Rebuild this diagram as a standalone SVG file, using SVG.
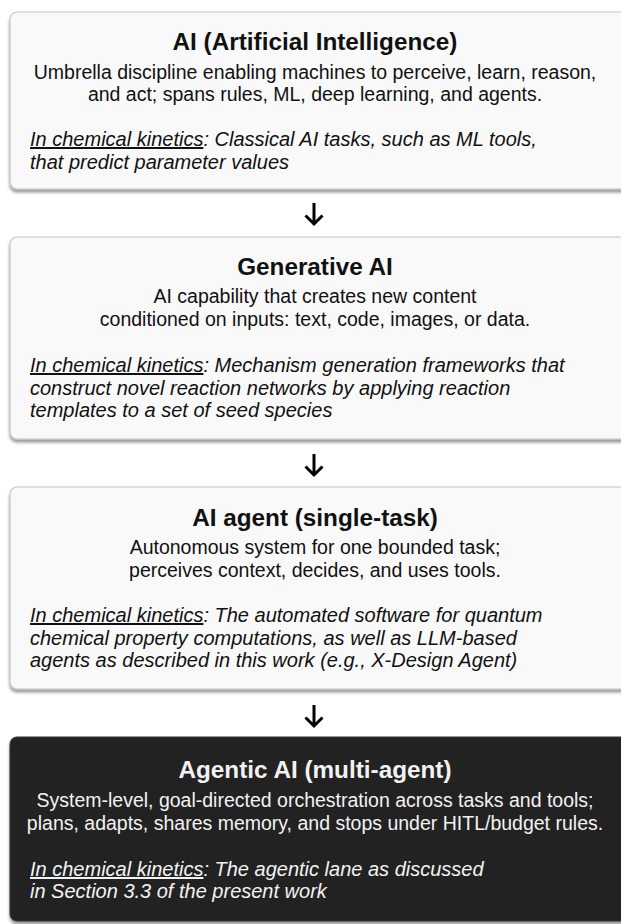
<svg xmlns="http://www.w3.org/2000/svg" width="621" height="924" viewBox="0 0 621 924">
<defs>
<filter id="sh" x="-5%" y="-5%" width="110%" height="115%">
<feDropShadow dx="0" dy="3" stdDeviation="1.5" flood-color="#000" flood-opacity="0.4"/>
</filter>
<style>
.box{fill:#f9f9f9;stroke:#c4c4c4;stroke-width:1.2;filter:url(#sh)}
.dark{fill:#232323;stroke:#333;stroke-width:1;filter:url(#sh)}
.t{font-family:"Liberation Sans",Arial,sans-serif;font-weight:bold;font-size:24.3px;text-anchor:middle;fill:#111}
.b{font-family:"Liberation Sans",Arial,sans-serif;font-size:19.5px;text-anchor:middle;fill:#111}
.i{font-family:"Liberation Sans",Arial,sans-serif;font-size:20px;font-style:italic;fill:#111}
.w{fill:#f2f2f2}
.u{text-decoration:underline}
.arr{fill:none;stroke:#000;stroke-width:3;stroke-linecap:butt;stroke-linejoin:miter}
</style>
</defs>
<rect width="621" height="924" fill="#fff"/>
<g id="connectors">
<path class="arr" d="M314 203V223M305.5 215.5L314 224L322.5 215.5"/>
<path class="arr" d="M314 454V474M305.5 466.5L314 475L322.5 466.5"/>
<path class="arr" d="M314 705V725M305.5 717.5L314 726L322.5 717.5"/>
</g>
<g id="node-ai">
<rect class="box" x="10" y="12" width="620" height="177" rx="7"/>
<text class="t" x="315" y="50">AI (Artificial Intelligence)</text>
<text class="b" x="315" y="79">Umbrella discipline enabling machines to perceive, learn, reason,</text>
<text class="b" x="315" y="101">and act; spans rules, ML, deep learning, and agents.</text>
<text class="i" x="30" y="146"><tspan class="u">In chemical kinetics</tspan>: Classical AI tasks, such as ML tools,</text>
<text class="i" x="30" y="169">that predict parameter values</text>
</g>
<g id="node-genai">
<rect class="box" x="10" y="237" width="620" height="202" rx="7"/>
<text class="t" x="315" y="275">Generative AI</text>
<text class="b" x="315" y="303">AI capability that creates new content</text>
<text class="b" x="315" y="326">conditioned on inputs: text, code, images, or data.</text>
<text class="i" x="30" y="372"><tspan class="u">In chemical kinetics</tspan>: Mechanism generation frameworks that</text>
<text class="i" x="30" y="395">construct novel reaction networks by applying reaction</text>
<text class="i" x="30" y="417">templates to a set of seed species</text>
</g>
<g id="node-agent">
<rect class="box" x="10" y="487" width="620" height="202" rx="7"/>
<text class="t" x="315" y="526">AI agent (single-task)</text>
<text class="b" x="315" y="554">Autonomous system for one bounded task;</text>
<text class="b" x="315" y="577">perceives context, decides, and uses tools.</text>
<text class="i" x="30" y="622"><tspan class="u">In chemical kinetics</tspan>: The automated software for quantum</text>
<text class="i" x="30" y="645">chemical property computations, as well as LLM-based</text>
<text class="i" x="30" y="667">agents as described in this work (e.g., X-Design Agent)</text>
</g>
<g id="node-agentic">
<rect class="dark" x="10" y="737" width="620" height="184" rx="7"/>
<text class="t w" x="315" y="778">Agentic AI (multi-agent)</text>
<text class="b w" x="315" y="807">System-level, goal-directed orchestration across tasks and tools;</text>
<text class="b w" x="315" y="830">plans, adapts, shares memory, and stops under HITL/budget rules.</text>
<text class="i w" x="30" y="876"><tspan class="u">In chemical kinetics</tspan>: The agentic lane as discussed</text>
<text class="i w" x="30" y="898">in Section 3.3 of the present work</text>
</g>
</svg>
